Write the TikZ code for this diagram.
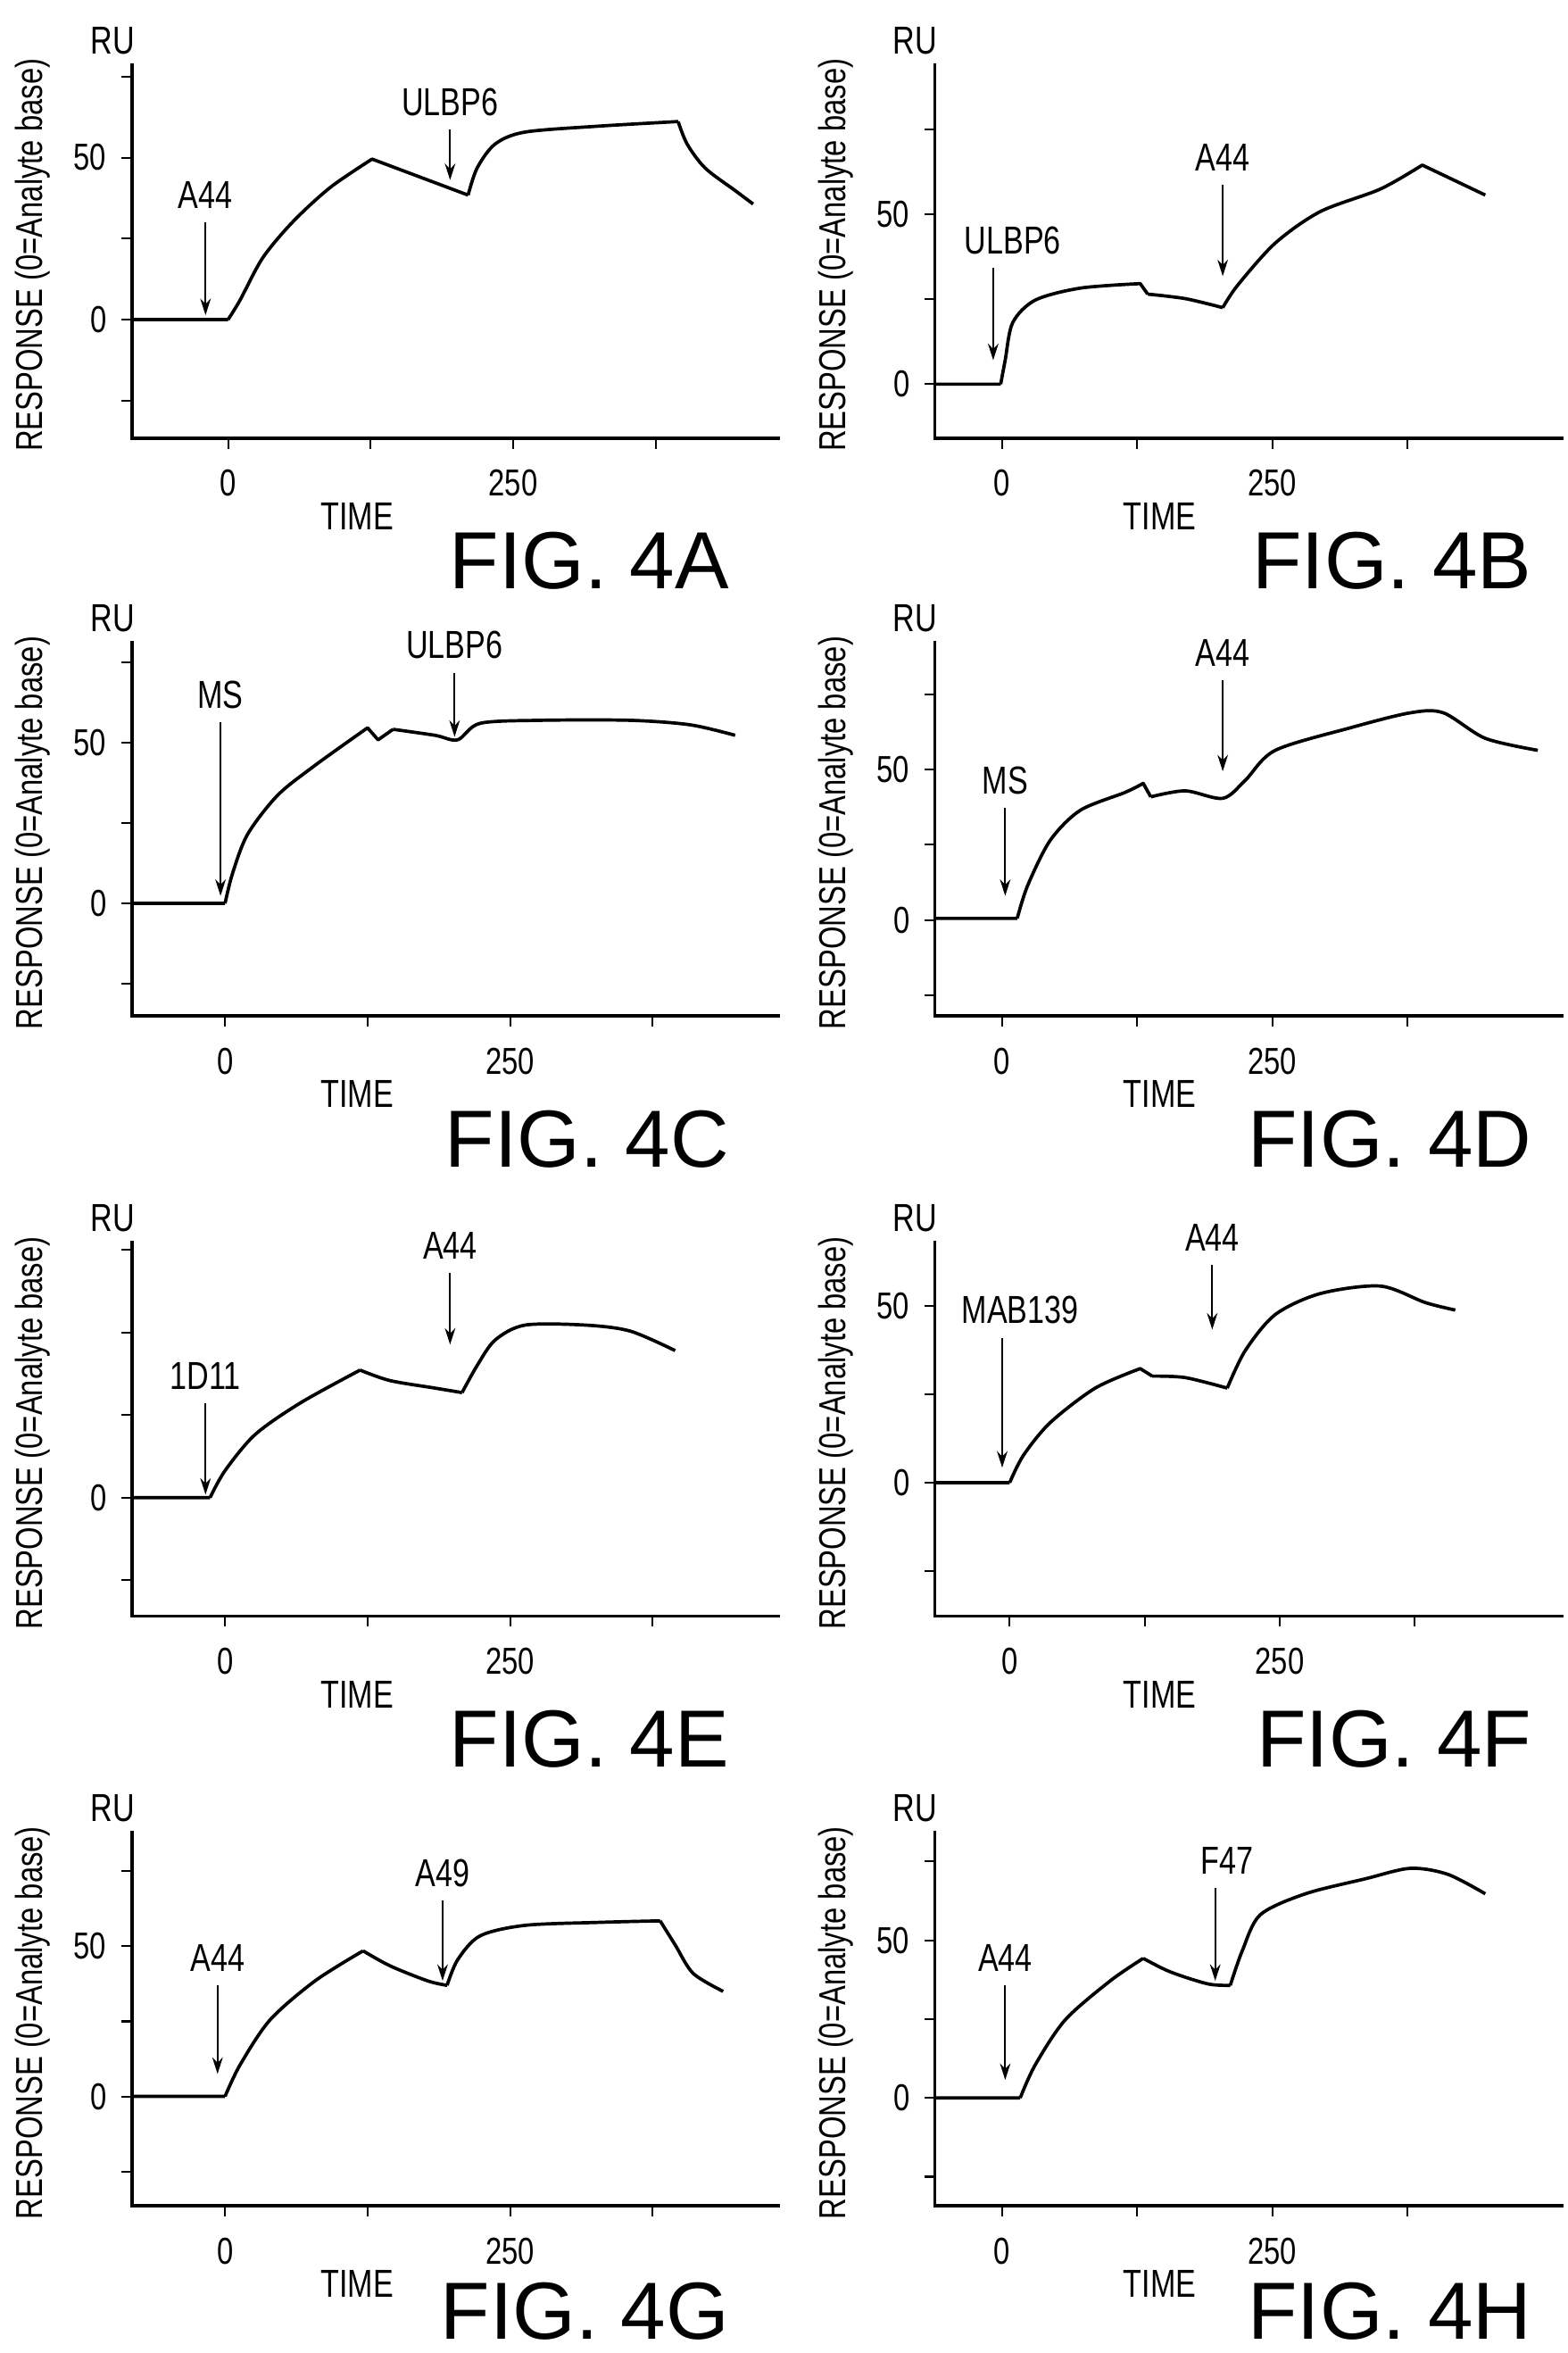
\documentclass[tikz,border=0pt]{standalone}
\usepackage{fontspec}
\setmainfont{Liberation Sans}
\usetikzlibrary{arrows.meta}
\tikzset{
  ax/.style={line width=2.2pt},
  crv/.style={line width=2.2pt,line join=round},
  arr/.style={line width=1.3pt,-{Stealth[length=11pt,width=7pt]}},
  lab/.style={font=\fontsize{26}{26}\selectfont,xscale=0.78,inner sep=1pt},
  tick/.style={font=\fontsize{25}{25}\selectfont,xscale=0.78,inner sep=1pt},
  ylab/.style={font=\fontsize{25}{25}\selectfont,rotate=90,inner sep=1pt},
  fig/.style={font=\fontsize{54}{54}\selectfont,inner sep=0pt},
}
% #1 left, #2 t0x, #3 px/time, #4 zero y, #5 px/RU, #6 x-axis y, #7 right, #8 letter, #9 show 50
\newcommand\drawpanel[9]{%
  \pgfmathsetmacro\ptop{#6-250}
  \draw[ax] (#1,\ptop) -- (#1,#6) -- (#7,#6);
  \foreach \t in {0,125,250,375}{\pgfmathsetmacro\tx{#2+\t*#3}\draw[line width=1.2pt] (\tx,#6) -- (\tx,#6+7);}
  \foreach \r in {-50,-25,0,25,50,75,100}{\pgfmathsetmacro\ry{#4-\r*#5}
    \pgfmathparse{(\ry>\ptop+5)&&(\ry<#6-5)?1:0}
    \ifnum\pgfmathresult=1 \draw[line width=1.2pt] (#1-7,\ry) -- (#1,\ry);\fi}
  \node[tick] (z#8) at (#1-22,#4) {0};
  \ifnum#9=1 \pgfmathsetmacro\fy{#4-50*#5}\node[tick] (f#8) at (#1-28,\fy) {50};\fi
  \node[tick] (t0#8) at (#2,#6+30) {0};
  \pgfmathsetmacro\tf{#2+250*#3}\node[tick] (t250#8) at (\tf,#6+30) {250};
  \node[lab] (ru#8) at (#1-13,\ptop-15) {RU};
  \pgfmathsetmacro\my{#6-122}
  \node[ylab] (yl#8) at (#1-66,\my) {\scalebox{0.78}[1]{RESPONSE (0=Analyte base)}};
  \node[lab] (tm#8) at (#1+150,#6+52) {TIME};
  \pgfmathsetmacro\fgy{min(#6+82,1540)}
  \node[fig,anchor=east] (fig#8) at (#1+398,\fgy) {FIG. 4#8};
}
\begin{document}
\begin{tikzpicture}[x=1pt,y=-1pt]
\useasboundingbox[fill=white] (0,0) rectangle (1045,1568);
% A
\drawpanel{88}{152}{0.76}{213}{2.16}{292}{520}{A}{1}
\draw[crv] (88,213) -- (152,213) plot[smooth] coordinates{(152,213)(160,200)(175,172)(195,148)(220,125)(248,106)} -- (312,130) plot[smooth] coordinates{(312,130)(318,112)(330,96)(350,88)(400,84)(452,81)} plot[smooth] coordinates{(452,81)(458,96)(470,112)(490,127)(502,136)};
\node[lab] (la1) at (137,130) {A44};
\node[lab] (la2) at (300,68) {ULBP6};
\draw[arr] ([yshift=-8pt]la1.south) -- (137,210);
\draw[arr] ([yshift=-8pt]la2.south) -- (300,120);
% B
\drawpanel{623}{668}{0.72}{256}{2.26}{292}{1042}{B}{1}
\draw[crv] (623,256) -- (667,256) plot[smooth] coordinates{(667,256)(670,240)(675,215)(690,200)(720,192)(760,189)} -- (765,196) plot[smooth] coordinates{(765,196)(790,199)(815,205)} plot[smooth] coordinates{(815,205)(825,190)(850,162)(880,141)(920,126)(948,110)} -- (990,130);
\node[lab] (lb1) at (675,160) {ULBP6};
\node[lab] (lb2) at (815,105) {A44};
\draw[arr] ([yshift=-8pt]lb1.south -| 662,0) -- (662,240);
\draw[arr] ([yshift=-8pt]lb2.south) -- (815,184);
% C
\drawpanel{88}{150}{0.76}{602}{2.14}{677}{520}{C}{1}
\draw[crv] (88,602) -- (150,602) plot[smooth] coordinates{(150,602)(155,582)(165,556)(185,530)(210,510)(245,485)} -- (252,493) -- (262,486) plot[smooth] coordinates{(262,486)(290,490)(305,493)(320,482)(360,480)(420,480)(460,483)(490,490)};
\node[lab] (lc1) at (147,463) {MS};
\node[lab] (lc2) at (303,430) {ULBP6};
\draw[arr] ([yshift=-8pt]lc1.south) -- (147,597);
\draw[arr] ([yshift=-8pt]lc2.south) -- (303,491);
% D
\drawpanel{623}{668}{0.72}{613}{2.0}{677}{1042}{D}{1}
\draw[crv] (623,612) -- (678,612) plot[smooth] coordinates{(678,612)(685,590)(700,560)(720,540)(750,528)(762,522)} -- (767,531) plot[smooth] coordinates{(767,531)(790,527)(815,532)(830,520)(850,500)(900,485)(940,475)(962,475)(990,492)(1025,500)};
\node[lab] (ld1) at (670,520) {MS};
\node[lab] (ld2) at (815,435) {A44};
\draw[arr] ([yshift=-8pt]ld1.south) -- (670,597);
\draw[arr] ([yshift=-8pt]ld2.south) -- (815,514);
% E
\drawpanel{88}{150}{0.76}{998}{2.2}{1077}{520}{E}{0}
\draw[crv] (88,998) -- (140,998) plot[smooth] coordinates{(140,998)(150,980)(170,956)(200,935)(240,913)} plot[smooth] coordinates{(240,913)(260,920)(290,925)(308,928)} plot[smooth] coordinates{(308,928)(318,910)(330,893)(350,883)(390,883)(420,887)(450,900)};
\node[lab] (le1) at (137,917) {1D11};
\node[lab] (le2) at (300,830) {A44};
\draw[arr] ([yshift=-8pt]le1.south) -- (137,996);
\draw[arr] ([yshift=-8pt]le2.south) -- (300,896);
% F
\drawpanel{623}{673}{0.72}{988}{2.35}{1077}{1042}{F}{1}
\draw[crv] (623,988) -- (673,988) plot[smooth] coordinates{(673,988)(682,970)(700,948)(730,925)(760,912)} -- (768,917) plot[smooth] coordinates{(768,917)(790,918)(818,925)} plot[smooth] coordinates{(818,925)(830,900)(850,876)(880,862)(920,857)(950,868)(970,873)};
\node[lab] (lf1) at (680,873) {MAB139};
\node[lab] (lf2) at (808,825) {A44};
\draw[arr] ([yshift=-8pt]lf1.south -| 668,0) -- (668,978);
\draw[arr] ([yshift=-8pt]lf2.south) -- (808,886);
% G
\drawpanel{88}{150}{0.76}{1397}{2.0}{1470}{520}{G}{1}
\draw[crv] (88,1397) -- (150,1397) plot[smooth] coordinates{(150,1397)(160,1376)(180,1346)(210,1320)(242,1300)} plot[smooth] coordinates{(242,1300)(260,1310)(285,1320)(298,1323)} plot[smooth] coordinates{(298,1323)(305,1306)(320,1290)(350,1283)(400,1281)(440,1280)} plot[smooth] coordinates{(440,1280)(450,1296)(462,1315)(482,1327)};
\node[lab] (lg1) at (145,1305) {A44};
\node[lab] (lg2) at (295,1248) {A49};
\draw[arr] ([yshift=-8pt]lg1.south) -- (145,1382);
\draw[arr] ([yshift=-8pt]lg2.south) -- (295,1320);
% H
\drawpanel{623}{668}{0.72}{1398}{2.1}{1470}{1042}{H}{1}
\draw[crv] (623,1398) -- (680,1398) plot[smooth] coordinates{(680,1398)(690,1376)(710,1346)(740,1320)(762,1305)} plot[smooth] coordinates{(762,1305)(780,1314)(805,1322)(820,1323)} plot[smooth] coordinates{(820,1323)(828,1300)(840,1276)(870,1262)(910,1252)(940,1245)(965,1249)(990,1262)};
\node[lab] (lh1) at (670,1305) {A44};
\node[lab] (lh2) at (818,1240) {F47};
\draw[arr] ([yshift=-8pt]lh1.south) -- (670,1386);
\draw[arr] ([yshift=-8pt]lh2.south -| 810,0) -- (810,1320);
\end{tikzpicture}
\end{document}
